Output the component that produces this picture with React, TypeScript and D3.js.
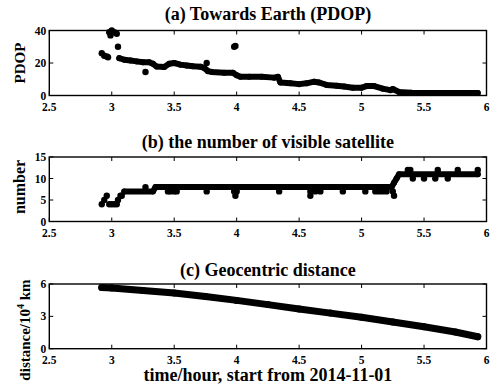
import React from 'react';
import * as d3 from 'd3';

// x axis (hours since 2014-11-01 00:00)
const xTicks = [2.5, 3, 3.5, 4, 4.5, 5, 5.5, 6];

// (a) PDOP: main trace + isolated samples
const pdopT = [3.06, 3.1, 3.15, 3.2, 3.25, 3.3, 3.33, 3.36, 3.42, 3.46, 3.5, 3.55, 3.6, 3.65, 3.71, 3.74, 3.77, 3.8, 3.9, 3.97, 4.0, 4.03, 4.1, 4.2, 4.3, 4.33, 4.35, 4.43, 4.5, 4.56, 4.62, 4.66, 4.72, 4.8, 4.86, 4.93, 5.0, 5.04, 5.1, 5.17, 5.23, 5.25, 5.3, 5.4, 5.5, 5.7, 5.93];
const pdopV = [23, 22, 21.5, 21, 20.5, 20.5, 19.5, 17.8, 17.5, 19.5, 20, 19, 18.5, 18, 17.7, 17, 15, 14.5, 14, 14, 12.5, 11.5, 11.5, 11.5, 11, 11.5, 8, 7.5, 7, 7.5, 8.5, 8, 6.5, 6, 5.5, 4.8, 4.8, 5.8, 5.8, 4.2, 3.3, 4, 2.2, 1.7, 1.5, 1.5, 1.5];
const pdopDotT = [2.92, 2.94, 2.96, 2.97, 2.98, 2.99, 3.0, 3.02, 3.04, 3.05, 3.27, 3.76, 3.98, 3.99];
const pdopDotV = [26, 24.5, 24, 23.5, 39, 37, 40, 39, 38, 30, 14.5, 20, 30, 30.5];

// (b) number of visible satellites
const satT = [3.1, 3.33, 3.35, 5.24, 5.26, 5.28, 5.3, 5.93];
const satV = [7, 7, 8, 8, 9, 10, 11, 11];
const satDotT = [2.92, 2.94, 2.96, 2.98, 3.0, 3.02, 3.04, 3.05, 3.07, 3.08, 3.27, 3.45, 3.47, 3.5, 3.52, 3.76, 3.98, 3.99, 4.0, 4.34, 4.59, 4.59, 4.63, 4.67, 4.85, 5.03, 5.11, 5.14, 5.17, 5.2, 5.25, 5.26, 5.37, 5.39, 5.41, 5.5, 5.59, 5.61, 5.69, 5.77, 5.93];
const satDotV = [4, 5, 6, 4, 4, 4, 4, 5, 6, 6, 8, 7, 7, 7, 7, 7, 7, 6, 7, 7, 7, 6, 7, 7, 7, 7, 7, 7, 7, 7, 7, 6, 12, 12, 10, 10, 10, 12, 10, 12, 12];

// (c) geocentric distance, 10^4 km
const distT = [2.92, 3.0, 3.25, 3.5, 3.75, 4.0, 4.25, 4.5, 4.75, 5.0, 5.25, 5.5, 5.75, 5.93];
const distV = [5.68, 5.62, 5.4, 5.17, 4.84, 4.48, 4.09, 3.69, 3.3, 2.91, 2.48, 2.03, 1.55, 1.11];

const FONT = '"Liberation Serif", "Times New Roman", serif';
const LEFT = 49.3;
const RIGHT = 486.5;

const x = d3.scaleLinear().domain([2.5, 6]).range([LEFT, RIGHT]);

type PanelProps = {
  top: number;
  bottom: number;
  yMax: number;
  yTicks: number[];
  title: string;
  titleY: number;
  lineT: number[];
  lineV: number[];
  lineWidth: number;
  dotT?: number[];
  dotV?: number[];
  ylabel: React.ReactNode;
  ylabelX: number;
  ylabelY: number;
  ylabelSize: number;
};

function Panel(p: PanelProps) {
  const y = d3.scaleLinear().domain([0, p.yMax]).range([p.bottom, p.top]);
  const line = d3.line<number>().x((t) => x(t)).y((_, i) => y(p.lineV[i]));
  const tk = 4;
  return (
    <g>
      <text x={(LEFT + RIGHT) / 2} y={p.titleY} textAnchor="middle" fontFamily={FONT} fontSize={18} fontWeight="bold">{p.title}</text>
      <path d={line(p.lineT) || ''} fill="none" stroke="#000" strokeWidth={p.lineWidth} strokeLinecap="round" strokeLinejoin="round" />
      {p.lineT.map((t, i) => (
        <circle key={'l' + i} cx={x(t)} cy={y(p.lineV[i])} r={p.lineWidth / 2} fill="#000" />
      ))}
      {(p.dotT || []).map((t, i) => (
        <circle key={'d' + i} cx={x(t)} cy={y(p.dotV![i])} r={3.2} fill="#000" />
      ))}
      <rect x={LEFT} y={p.top} width={RIGHT - LEFT} height={p.bottom - p.top} fill="none" stroke="#000" strokeWidth={1.4} />
      {xTicks.map((t) => (
        <g key={'x' + t}>
          <line x1={x(t)} x2={x(t)} y1={p.bottom} y2={p.bottom - tk} stroke="#000" strokeWidth={1} />
          <line x1={x(t)} x2={x(t)} y1={p.top} y2={p.top + tk} stroke="#000" strokeWidth={1} />
          <text x={x(t)} y={p.bottom + 15.5} textAnchor="middle" fontFamily={FONT} fontSize={11.5} fontWeight="bold">{String(t)}</text>
        </g>
      ))}
      {p.yTicks.map((v) => (
        <g key={'y' + v}>
          <line x1={LEFT} x2={LEFT + tk} y1={y(v)} y2={y(v)} stroke="#000" strokeWidth={1} />
          <line x1={RIGHT} x2={RIGHT - tk} y1={y(v)} y2={y(v)} stroke="#000" strokeWidth={1} />
          <text x={LEFT - 3} y={y(v)} dy="0.35em" textAnchor="end" fontFamily={FONT} fontSize={11.5} fontWeight="bold">{String(v)}</text>
        </g>
      ))}
      <text transform={`translate(${p.ylabelX},${p.ylabelY}) rotate(-90)`} textAnchor="middle" fontFamily={FONT} fontSize={p.ylabelSize} fontWeight="bold">{p.ylabel}</text>
    </g>
  );
}

export default function App() {
  return (
    <svg width={491} height={390} style={{ position: 'absolute', left: 0, top: 0, background: '#fff' }} fontFamily={FONT}>
      <rect width={491} height={390} fill="#fff" />
      <Panel top={30.5} bottom={95.5} yMax={40} yTicks={[0, 20, 40]} title="(a) Towards Earth (PDOP)" titleY={20}
        lineT={pdopT} lineV={pdopV} lineWidth={6} dotT={pdopDotT} dotV={pdopDotV}
        ylabel="PDOP" ylabelX={25} ylabelY={63} ylabelSize={15} />
      <Panel top={157} bottom={221.5} yMax={15} yTicks={[0, 5, 10, 15]} title="(b) the number of visible satellite" titleY={148}
        lineT={satT} lineV={satV} lineWidth={6} dotT={satDotT} dotV={satDotV}
        ylabel="number" ylabelX={25} ylabelY={187} ylabelSize={16} />
      <Panel top={284} bottom={348.7} yMax={6} yTicks={[0, 3, 6]} title="(c) Geocentric distance" titleY={276}
        lineT={distT} lineV={distV} lineWidth={7}
        ylabel={<>distance/10<tspan fontSize={10} dy={-6}>4</tspan><tspan dy={6}> km</tspan></>}
        ylabelX={30} ylabelY={330} ylabelSize={15} />
      <text x={(LEFT + RIGHT) / 2} y={381} textAnchor="middle" fontFamily={FONT} fontSize={18} fontWeight="bold">time/hour, start from 2014-11-01</text>
    </svg>
  );
}
